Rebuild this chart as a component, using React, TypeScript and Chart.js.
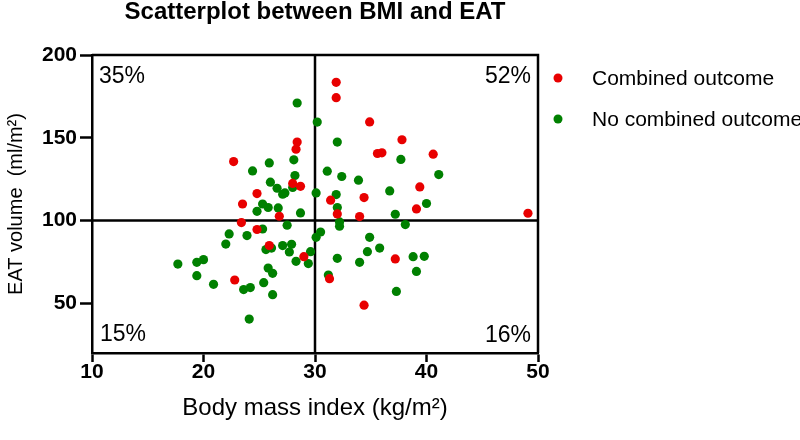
import React, { useEffect, useRef } from "react";
import { Chart, registerables } from "chart.js";

Chart.register(...registerables);

const FONT = '"Liberation Sans", Arial, Helvetica, sans-serif';

const titleText = "Scatterplot between BMI and EAT";
const xTitle = "Body mass index (kg/m²)";
const yTitle = "EAT volume  (ml/m²)";
const seriesNames = ["Combined outcome", "No combined outcome"];
const seriesColors = ["rgb(232,0,0)", "rgb(0,128,0)"];
const xTicks = [10, 20, 30, 40, 50];
const yTicks = [50, 100, 150, 200];
const xRange = [10, 50];
const yRange = [20, 200];
const cutBMI = 30;
const cutEAT = 100;
// top-left, top-right, bottom-left, bottom-right
const quadrantLabels = ["35%", "52%", "15%", "16%"];

const combinedBMI = [
  22.7, 28.4, 28.3, 28.0, 28.7, 24.8, 23.5, 26.8, 23.4, 24.8, 25.9, 29.0, 22.8,
  31.9, 31.9, 34.9, 37.8, 35.6, 36.0, 40.6, 39.4, 31.4, 34.4, 32.0, 34.0, 39.1,
  49.1, 37.2, 31.3, 34.4,
];
const combinedEAT = [
  135.6, 147.4, 143.1, 122.4, 120.7, 116.3, 110.0, 102.6, 98.8, 94.6, 84.9, 78.2,
  64.1, 183.5, 174.2, 159.6, 148.8, 140.5, 140.9, 140.1, 120.3, 112.3, 113.9,
  104.0, 102.4, 107.0, 104.4, 76.8, 64.9, 48.9,
];

const noCombinedBMI = [
  28.4, 28.1, 25.9, 24.4, 28.2, 26.0, 26.6, 28.0, 27.1, 27.3, 25.3, 25.8, 24.8,
  26.7, 28.7,
  27.5, 25.3, 22.3, 23.9, 22.0, 25.6, 26.1, 27.1, 27.9, 27.7, 29.6, 28.3, 29.4,
  17.7, 19.4, 20.0, 19.4, 20.9, 23.6, 24.2, 25.4, 25.8, 26.2, 26.2, 24.1,
  30.2, 30.1, 32.0, 37.7, 31.1, 32.4, 33.9, 41.1, 36.7, 31.9, 32.0, 37.2, 40.0,
  30.1, 30.5, 38.1, 32.2, 32.2, 34.9, 35.8, 34.7, 32.0, 34.0, 38.8, 39.8, 39.1,
  31.2, 37.3,
];
const noCombinedEAT = [
  171.0, 136.7, 134.8, 130.0, 127.2, 123.2, 119.5, 120.0, 115.9, 116.7, 110.0,
  107.9, 105.6, 107.6, 104.6,
  97.2, 94.9, 91.9, 90.9, 85.8, 82.5, 83.4, 84.9, 85.7, 81.0, 81.2, 75.4, 74.0,
  73.7, 74.8, 76.4, 66.7, 61.5, 58.3, 59.5, 62.5, 71.3, 68.1, 55.2, 40.5,
  159.5, 116.7, 147.4, 136.9, 129.8, 126.6, 124.4, 127.8, 117.9, 115.7, 107.9,
  103.8, 110.3,
  89.9, 93.1, 97.6, 99.2, 96.6, 89.9, 83.4, 81.2, 77.2, 74.8, 78.2, 78.4, 69.3,
  67.1, 57.2,
];

const overlayPlugin = {
  id: "overlay",
  beforeDatasetsDraw(chart: any) {
    const { ctx, chartArea: a, scales } = chart;
    const px = scales.x.getPixelForValue(cutBMI);
    const py = scales.y.getPixelForValue(cutEAT);
    ctx.save();
    ctx.strokeStyle = "#000";
    ctx.lineWidth = 2.5;
    ctx.beginPath();
    ctx.moveTo(px, a.top);
    ctx.lineTo(px, a.bottom);
    ctx.moveTo(a.left, py);
    ctx.lineTo(a.right, py);
    ctx.stroke();
    ctx.beginPath();
    ctx.moveTo(a.left, a.top);
    ctx.lineTo(a.right, a.top);
    ctx.lineTo(a.right, a.bottom);
    ctx.stroke();

    ctx.fillStyle = "#000";
    ctx.font = `23px ${FONT}`;
    ctx.textBaseline = "alphabetic";
    ctx.textAlign = "left";
    ctx.fillText(quadrantLabels[0], a.left + 7, a.top + 28);
    ctx.textAlign = "right";
    ctx.fillText(quadrantLabels[1], a.right - 7, a.top + 28);
    ctx.textAlign = "left";
    ctx.fillText(quadrantLabels[2], a.left + 8, a.bottom - 12);
    ctx.textAlign = "right";
    ctx.fillText(quadrantLabels[3], a.right - 7, a.bottom - 11);
    ctx.restore();
  },
  afterDraw(chart: any) {
    const { ctx, chartArea: a } = chart;
    ctx.save();
    ctx.font = `21px ${FONT}`;
    ctx.textBaseline = "middle";
    ctx.textAlign = "left";
    seriesNames.forEach((name, i) => {
      const cy = a.top + 23 + i * 41;
      ctx.fillStyle = seriesColors[i];
      ctx.beginPath();
      ctx.arc(a.right + 20, cy, 4.5, 0, Math.PI * 2);
      ctx.fill();
      ctx.fillStyle = "#000";
      ctx.fillText(name, a.right + 54, cy + 1);
    });
    ctx.restore();
  },
};

export default function App() {
  const ref = useRef<HTMLCanvasElement>(null);
  useEffect(() => {
    if (!ref.current) return;
    const chart = new Chart(ref.current, {
      type: "scatter",
      data: {
        datasets: [
          {
            label: seriesNames[0],
            data: combinedBMI.map((x, i) => ({ x, y: combinedEAT[i] })),
            backgroundColor: seriesColors[0],
            borderColor: seriesColors[0],
            pointRadius: 4.6,
            pointBorderWidth: 0,
          },
          {
            label: seriesNames[1],
            data: noCombinedBMI.map((x, i) => ({ x, y: noCombinedEAT[i] })),
            backgroundColor: seriesColors[1],
            borderColor: seriesColors[1],
            pointRadius: 4.6,
            pointBorderWidth: 0,
          },
        ],
      },
      options: {
        responsive: false,
        animation: false,
        devicePixelRatio: 1,
        layout: { padding: { left: 0, right: 262, top: 0, bottom: 0 } },
        plugins: {
          legend: { display: false },
          tooltip: { enabled: false },
          title: {
            display: true,
            text: titleText,
            fullSize: false,
            color: "#000",
            font: { family: FONT, size: 24, weight: "bold", lineHeight: 1 },
            padding: { top: 0, bottom: 31 },
          },
        },
        scales: {
          x: {
            type: "linear",
            min: xRange[0],
            max: xRange[1],
            afterBuildTicks: (axis: any) => {
              axis.ticks = xTicks.map((v) => ({ value: v }));
            },
            afterFit: (scale: any) => {
              scale.height = 87;
            },
            grid: {
              drawOnChartArea: false,
              drawTicks: true,
              tickLength: 9,
              tickWidth: 2.5,
              tickColor: "#000",
            },
            border: { display: true, color: "#000", width: 2.5 },
            ticks: {
              color: "#000",
              padding: -2,
              maxRotation: 0,
              font: { family: FONT, size: 21, weight: "bold" },
            },
            title: {
              display: true,
              text: xTitle,
              color: "#000",
              font: { family: FONT, size: 24 },
              padding: { top: 0, bottom: 17 },
            },
          },
          y: {
            type: "linear",
            min: yRange[0],
            max: yRange[1],
            afterBuildTicks: (axis: any) => {
              axis.ticks = yTicks.map((v) => ({ value: v }));
            },
            afterFit: (scale: any) => {
              scale.width = 92;
            },
            grid: {
              drawOnChartArea: false,
              drawTicks: true,
              tickLength: 12,
              tickWidth: 2.5,
              tickColor: "#000",
            },
            border: { display: true, color: "#000", width: 2.5 },
            ticks: {
              color: "#000",
              padding: 3,
              font: { family: FONT, size: 21, weight: "bold" },
            },
            title: {
              display: true,
              text: yTitle,
              color: "#000",
              font: { family: FONT, size: 20 },
              padding: { top: 4, bottom: 0 },
            },
          },
        },
      },
      plugins: [overlayPlugin],
    } as any);
    return () => chart.destroy();
  }, []);
  return (
    <div
      style={{
        position: "absolute",
        left: 0,
        top: 0,
        width: 800,
        height: 440,
        background: "#fff",
      }}
    >
      <canvas ref={ref} width={800} height={440} style={{ display: "block" }} />
    </div>
  );
}
